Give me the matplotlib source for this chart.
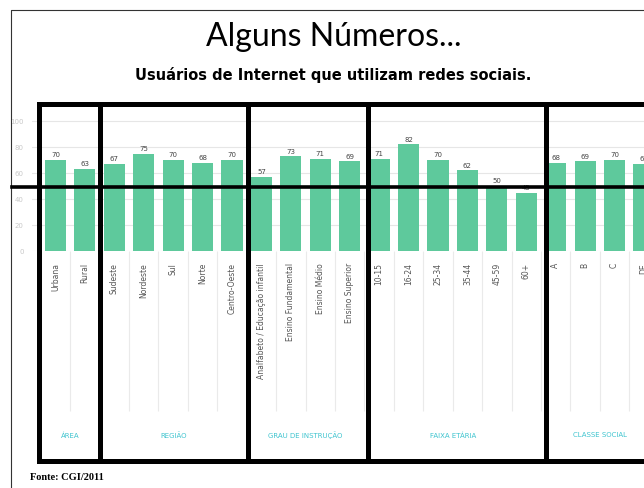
import matplotlib
matplotlib.use('Agg')
import matplotlib.pyplot as plt

# data
categories = ['Urbana', 'Rural',
              'Sudeste', 'Nordeste', 'Sul', 'Norte', 'Centro-Oeste',
              'Analfabeto / Educação infantil', 'Ensino Fundamental', 'Ensino Médio', 'Ensino Superior',
              '10-15', '16-24', '25-34', '35-44', '45-59', '60+',
              'A', 'B', 'C', 'DE']
values = [70, 63,
          67, 75, 70, 68, 70,
          57, 73, 71, 69,
          71, 82, 70, 62, 50, 45,
          68, 69, 70, 67]
groups = ['ÁREA', 'REGIÃO', 'GRAU DE INSTRUÇÃO', 'FAIXA ETÁRIA', 'CLASSE SOCIAL']
group_sizes = [2, 5, 4, 6, 4]
yticks = [0, 20, 40, 60, 80, 100]

W, H = 644, 489
fig = plt.figure(figsize=(W / 100, H / 100), dpi=100)

# chart axes (pixel layout of the screenshot)
x0_px, step_px, left_px = 55.5, 29.48, 32
ax = fig.add_axes([left_px / W, (H - 252) / H, (W - left_px) / W, (252 - 108) / H])
ax.set_xlim((left_px - x0_px) / step_px, (W - x0_px) / step_px)
ax.set_ylim(0, (252 - 108) / 1.3)

xs = list(range(len(categories)))
ax.bar(xs, values, width=0.72, color='#5ec99c', zorder=2)
for x, v in zip(xs, values):
    ax.text(x, v + 2, str(v), ha='center', va='bottom', fontsize=5, color='#444444')

ax.set_yticks(yticks)
ax.set_yticklabels([str(t) for t in yticks], fontsize=5, color='#c8c8c8')
ax.yaxis.grid(True, color='#e6e6e6', linewidth=0.8, zorder=0)
ax.tick_params(axis='both', length=0)
ax.tick_params(axis='y', pad=6)
ax.set_xticks(xs)
ax.set_xticklabels(categories, rotation=90, fontsize=5.5, color='#555555', va='top')
ax.tick_params(axis='x', pad=8)
for s in ax.spines.values():
    s.set_visible(False)

# light separators under the bars
ax.vlines([i - 0.5 for i in range(len(categories) + 1)], -123, 0,
          color='#eaeaea', linewidth=0.8, clip_on=False)

# group labels
start = 0
for g, n in zip(groups, group_sizes):
    ax.text(start + (n - 1) / 2, -141, g, ha='center', va='center',
            fontsize=5, color='#3fc4cf', clip_on=False)
    start += n

# overlay in pixel coords: slide frame, marker boxes, titles
ov = fig.add_axes([0, 0, 1, 1], facecolor='none')
ov.set_xlim(0, W)
ov.set_ylim(H, 0)
ov.axis('off')

ov.plot([11, 11, W], [H, 11, 11], color='#333333', linewidth=0.8)

box_edges = [39.5, 100, 248, 368, 546, 700]
for a, b in zip(box_edges[:-1], box_edges[1:]):
    ov.add_patch(plt.Rectangle((a, 105), b - a, 357, fill=False,
                               edgecolor='black', linewidth=3.6))
ov.plot([12, W], [187.5, 187.5], color='black', linewidth=2.6)

ov.text(333.5, 37, 'Alguns Números...', ha='center', va='center',
        fontsize=23, family='Lato', color='black')
ov.text(333.5, 75, 'Usuários de Internet que utilizam redes sociais.', ha='center',
        va='center', fontsize=10.5, family='DejaVu Sans', fontweight='bold', color='black')
ov.text(30, 477, 'Fonte: CGI/2011', ha='left', va='center', fontsize=7.5,
        family='Liberation Serif', fontweight='bold', color='black')

fig.savefig('out.png', dpi=100)
